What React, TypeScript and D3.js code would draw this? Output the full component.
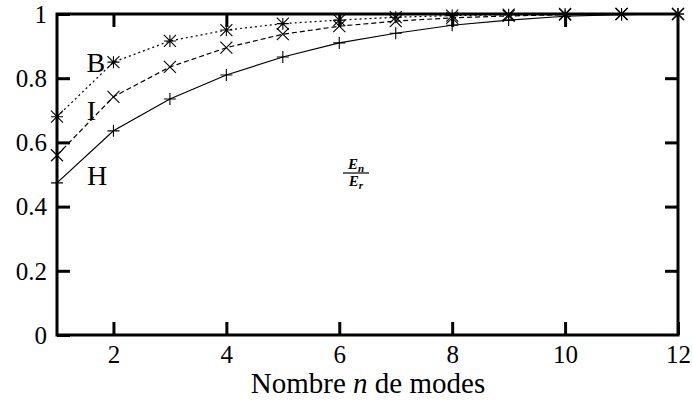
import React, { useEffect, useRef } from 'react';
import * as d3 from 'd3';

// nombre de modes
const modes = [1, 2, 3, 4, 5, 6, 7, 8, 9, 10, 11, 12];
// rapport En / Er pour chaque cas
const serieH = [0.474, 0.636, 0.735, 0.81, 0.866, 0.91, 0.94, 0.965, 0.981, 0.993, 0.998, 1.0];
const serieI = [0.56, 0.742, 0.835, 0.895, 0.937, 0.962, 0.978, 0.988, 0.994, 0.998, 1.0, 1.0];
const serieB = [0.68, 0.85, 0.916, 0.95, 0.97, 0.981, 0.99, 0.995, 0.998, 1.0, 1.0, 1.0];
const xTicks = [2, 4, 6, 8, 10, 12];
const yTicks = [0, 0.2, 0.4, 0.6, 0.8, 1];

const W = 693;
const H = 401;
const margin = { top: 14, right: 15, bottom: 66, left: 57 };

const App: React.FC = () => {
  const ref = useRef<SVGSVGElement>(null);

  useEffect(() => {
    const svg = d3.select(ref.current);
    svg.selectAll('*').remove();

    const x = d3.scaleLinear().domain([1, 12]).range([margin.left, W - margin.right]);
    const y = d3.scaleLinear().domain([0, 1]).range([H - margin.bottom, margin.top]);
    const font = "'Liberation Serif', 'DejaVu Serif', serif";

    // axes avec graduations vers l'intérieur
    const fmt = (d: d3.NumberValue) => (+d === 0 || +d === 1 ? String(d) : d3.format('.1f')(d));
    const bottom = svg.append('g')
      .attr('transform', `translate(0,${y(0)})`)
      .call(d3.axisBottom(x).tickValues(xTicks).tickSizeInner(-13).tickSizeOuter(0).tickPadding(10));
    const left = svg.append('g')
      .attr('transform', `translate(${x(1)},0)`)
      .call(d3.axisLeft(y).tickValues(yTicks).tickFormat(fmt).tickSizeInner(-13).tickSizeOuter(0).tickPadding(10));
    const top = svg.append('g')
      .attr('transform', `translate(0,${y(1)})`)
      .call(d3.axisTop(x).tickValues(xTicks.filter(v => v < 12)).tickSizeInner(-13).tickSizeOuter(0).tickFormat(() => ''));
    const right = svg.append('g')
      .attr('transform', `translate(${x(12)},0)`)
      .call(d3.axisRight(y).tickValues(yTicks.filter(v => v > 0 && v < 1)).tickSizeInner(-13).tickSizeOuter(0).tickFormat(() => ''));

    [bottom, left, top, right].forEach(g => {
      g.attr('font-family', font).attr('font-size', 25);
      g.select('.domain').remove();
      g.selectAll('.tick line').attr('stroke', '#000').attr('stroke-width', 3);
      g.selectAll('.tick text').attr('fill', '#000');
    });
    left.selectAll('.tick text').attr('dy', '0.33em');

    // cadre
    svg.append('rect')
      .attr('x', x(1))
      .attr('y', y(1))
      .attr('width', x(12) - x(1))
      .attr('height', y(0) - y(1))
      .attr('fill', 'none')
      .attr('stroke', '#000')
      .attr('stroke-width', 3);

    const series = [
      { name: 'H', values: serieH, dash: null, marker: 'plus' },
      { name: 'I', values: serieI, dash: '5,3', marker: 'cross' },
      { name: 'B', values: serieB, dash: '2,3', marker: 'star' },
    ];

    const line = d3.line<number>()
      .x((_, i) => x(modes[i]))
      .y(d => y(d));

    const s = 6;
    const markerPath = (type: string) => {
      const p = d3.path();
      if (type === 'plus' || type === 'star') {
        p.moveTo(-s, 0); p.lineTo(s, 0);
        p.moveTo(0, -s); p.lineTo(0, s);
      }
      if (type === 'cross' || type === 'star') {
        p.moveTo(-s, -s); p.lineTo(s, s);
        p.moveTo(-s, s); p.lineTo(s, -s);
      }
      return p.toString();
    };

    series.forEach(se => {
      svg.append('path')
        .datum(se.values)
        .attr('d', line)
        .attr('fill', 'none')
        .attr('stroke', '#000')
        .attr('stroke-width', 1.2)
        .attr('stroke-dasharray', se.dash);

      svg.append('g')
        .selectAll('path')
        .data(se.values)
        .enter()
        .append('path')
        .attr('transform', (d, i) => `translate(${x(modes[i])},${y(d)})`)
        .attr('d', markerPath(se.marker))
        .attr('stroke', '#000')
        .attr('stroke-width', 1.1)
        .attr('fill', 'none');
    });

    // étiquettes des courbes
    const labels = [
      { t: 'B', xv: 1.69, yv: 0.851 },
      { t: 'I', xv: 1.61, yv: 0.70 },
      { t: 'H', xv: 1.71, yv: 0.498 },
    ];
    svg.append('g')
      .selectAll('text')
      .data(labels)
      .enter()
      .append('text')
      .attr('x', d => x(d.xv))
      .attr('y', d => y(d.yv))
      .attr('dy', '0.35em')
      .attr('text-anchor', 'middle')
      .attr('font-family', font)
      .attr('font-size', 28)
      .text(d => d.t);

    // fraction En / Er
    const fx = 356;
    const frac = svg.append('g').attr('font-family', font).attr('font-style', 'italic').attr('font-weight', 'bold');
    const num = frac.append('text').attr('x', fx).attr('y', 169).attr('text-anchor', 'middle').attr('font-size', 15);
    num.append('tspan').text('E');
    num.append('tspan').attr('dy', 3).attr('font-size', 11).text('n');
    frac.append('line')
      .attr('x1', fx - 13).attr('x2', fx + 13)
      .attr('y1', 173).attr('y2', 173)
      .attr('stroke', '#000').attr('stroke-width', 1.2);
    const den = frac.append('text').attr('x', fx).attr('y', 186).attr('text-anchor', 'middle').attr('font-size', 15);
    den.append('tspan').text('E');
    den.append('tspan').attr('dy', 3).attr('font-size', 11).text('r');

    // titre de l'axe x
    const xt = svg.append('text')
      .attr('x', 368)
      .attr('y', 393)
      .attr('text-anchor', 'middle')
      .attr('font-family', font)
      .attr('font-size', 29);
    xt.append('tspan').text('Nombre ');
    xt.append('tspan').attr('font-style', 'italic').text('n');
    xt.append('tspan').text(' de modes');
  }, []);

  return (
    <div style={{ position: 'absolute', left: 0, top: 0 }}>
      <svg ref={ref} width={W} height={H} style={{ display: 'block', background: '#fff' }} />
    </div>
  );
};

export default App;
